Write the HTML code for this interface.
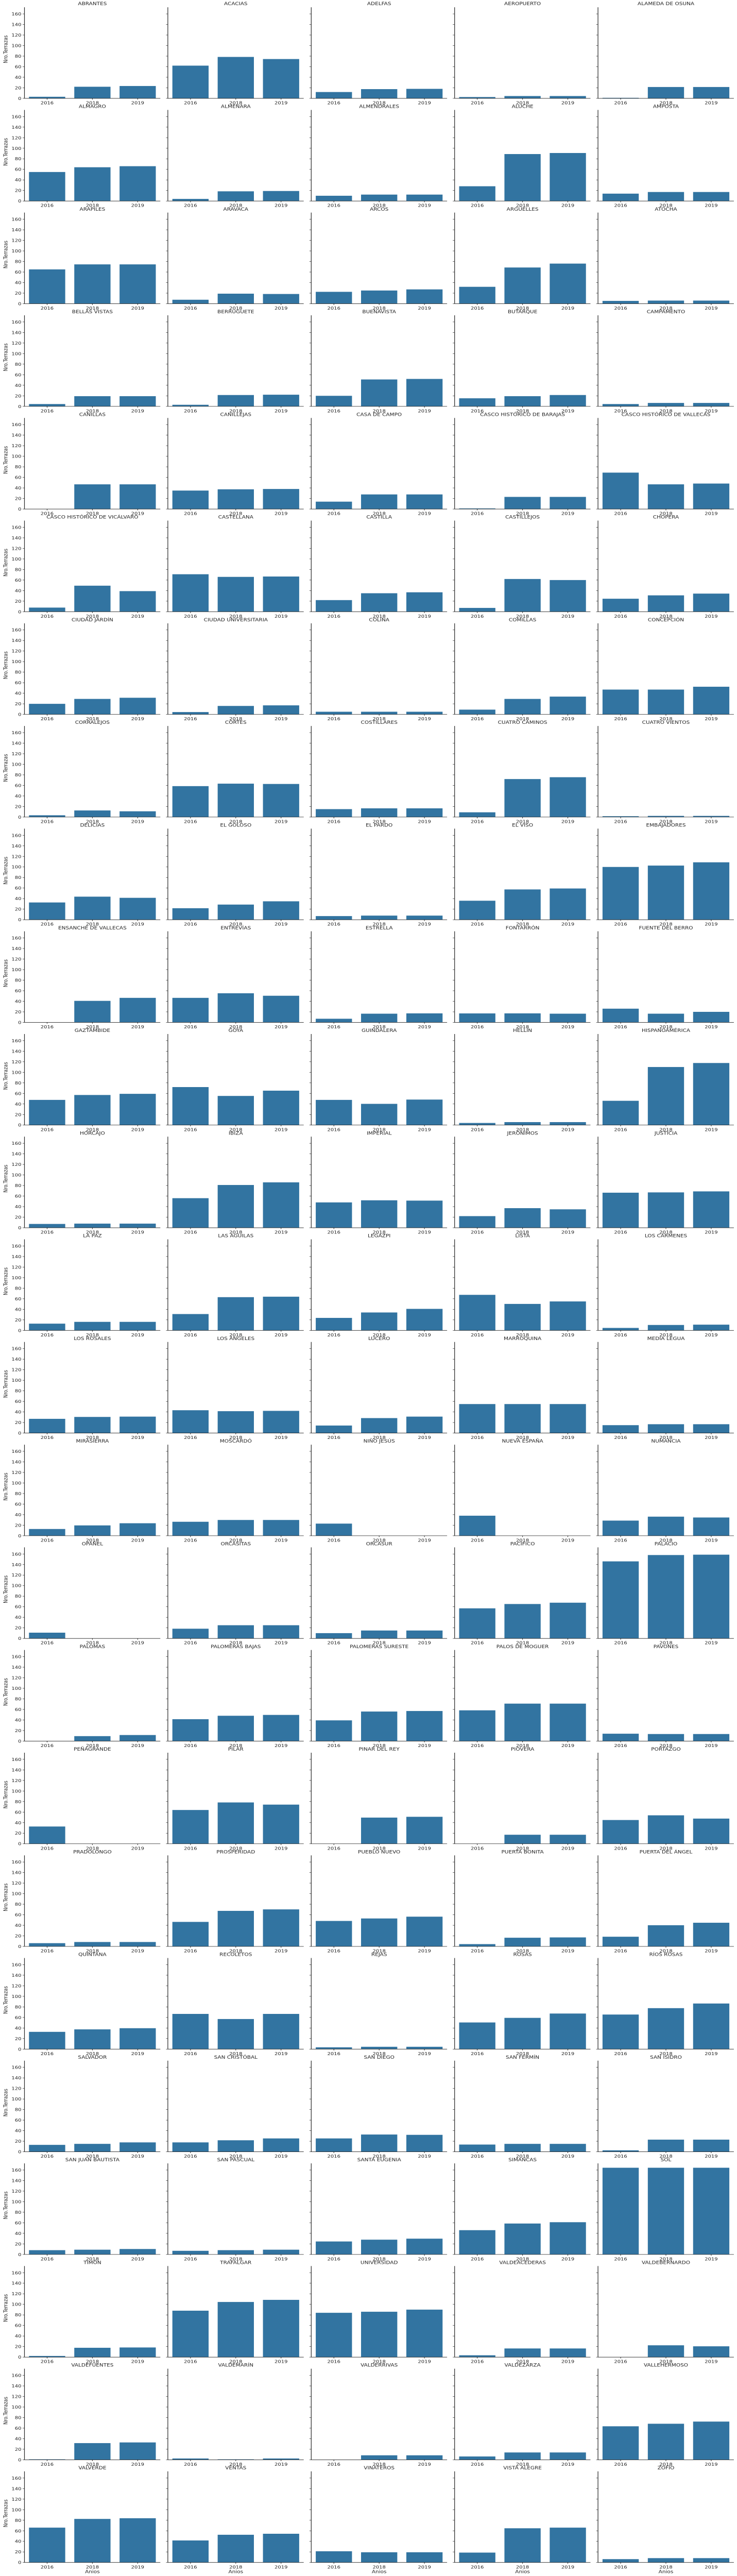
<!DOCTYPE html>
<html><head><meta charset="utf-8">
<style>
html,body{margin:0;padding:0;background:#fff;width:100%;height:100%;overflow:hidden;}
svg{display:block;width:100vw;height:100vh;position:absolute;left:0;top:0;}
text{font-family:"DejaVu Sans","Liberation Sans",sans-serif;fill:#222;}
</style></head>
<body>
<svg id="chart" viewBox="0 0 1431 7192" preserveAspectRatio="none" xmlns="http://www.w3.org/2000/svg"></svg>
<script>
const barrios = ["ABRANTES","ACACIAS","ADELFAS","AEROPUERTO","ALAMEDA DE OSUNA",
"ALMAGRO","ALMENARA","ALMENDRALES","ALUCHE","AMPOSTA",
"ARAPILES","ARAVACA","ARCOS","ARGÜELLES","ATOCHA",
"BELLAS VISTAS","BERRUGUETE","BUENAVISTA","BUTARQUE","CAMPAMENTO",
"CANILLAS","CANILLEJAS","CASA DE CAMPO","CASCO HISTÓRICO DE BARAJAS","CASCO HISTÓRICO DE VALLECAS",
"CASCO HISTÓRICO DE VICÁLVARO","CASTELLANA","CASTILLA","CASTILLEJOS","CHOPERA",
"CIUDAD JARDÍN","CIUDAD UNIVERSITARIA","COLINA","COMILLAS","CONCEPCIÓN",
"CORRALEJOS","CORTES","COSTILLARES","CUATRO CAMINOS","CUATRO VIENTOS",
"DELICIAS","EL GOLOSO","EL PARDO","EL VISO","EMBAJADORES",
"ENSANCHE DE VALLECAS","ENTREVÍAS","ESTRELLA","FONTARRÓN","FUENTE DEL BERRO",
"GAZTAMBIDE","GOYA","GUINDALERA","HELLÍN","HISPANOAMÉRICA",
"HORCAJO","IBIZA","IMPERIAL","JERÓNIMOS","JUSTICIA",
"LA PAZ","LAS ÁGUILAS","LEGAZPI","LISTA","LOS CÁRMENES",
"LOS ROSALES","LOS ÁNGELES","LUCERO","MARROQUINA","MEDIA LEGUA",
"MIRASIERRA","MOSCARDÓ","NIÑO JESÚS","NUEVA ESPAÑA","NUMANCIA",
"OPAÑEL","ORCASITAS","ORCASUR","PACÍFICO","PALACIO",
"PALOMAS","PALOMERAS BAJAS","PALOMERAS SURESTE","PALOS DE MOGUER","PAVONES",
"PEÑAGRANDE","PILAR","PINAR DEL REY","PIOVERA","PORTAZGO",
"PRADOLONGO","PROSPERIDAD","PUEBLO NUEVO","PUERTA BONITA","PUERTA DEL ÁNGEL",
"QUINTANA","RECOLETOS","REJAS","ROSAS","RÍOS ROSAS",
"SALVADOR","SAN CRISTÓBAL","SAN DIEGO","SAN FERMÍN","SAN ISIDRO",
"SAN JUAN BAUTISTA","SAN PASCUAL","SANTA EUGENIA","SIMANCAS","SOL",
"TIMÓN","TRAFALGAR","UNIVERSIDAD","VALDEACEDERAS","VALDEBERNARDO",
"VALDEFUENTES","VALDEMARÍN","VALDERRIVAS","VALDEZARZA","VALLEHERMOSO",
"VALVERDE","VENTAS","VINATEROS","VISTA ALEGRE","ZOFÍO"];
const years = ["2016","2018","2019"];
const v2016 = [3,62,12,2.5,1, 55,4,10,28,14, 65,7.5,22.5,32,5.3, 4.4,3,20,15.3,4.4, 0,35,14,1.2,69,
7.8,71,22,7.2,24.6, 20,4.4,5,9,47, 3.4,58.6,15,9,1.6, 32.7,21.8,6.9,36,100, 0,46.5,6.9,17,26,
47.7,72,47.7,4,46, 7.2,56,48,22,66.4, 12.8,31,23.7,67.4,4.7, 27,43.3,14.3,55,15, 12.8,26.5,23,38,28.7,
10.9,18.4,10,57,146, 0,41.5,39.3,58.3,14, 32.7,64,0,0,45, 6.2,46.5,48.3,4.4,18.4, 32.7,66.7,3.4,50.5,65.5,
13.1,17.8,25.3,13.7,2.8, 8.1,6.9,24.6,46,164.3, 2.2,88,84,3.5,0, 0.9,2.5,0,6.3,63.5, 66,41.7,21.2,18.7,6.3];
const v2018 = [22,78.5,17.5,4.4,21.5, 64,18.4,12.2,89,17.1, 74.5,19,25,68.6,5.9, 19.3,21.5,51,19.3,6.5, 46.8,37.4,27.7,23,46.8,
49.3,66,35,62,31, 29.3,16,5,29.3,47, 12.5,63.3,16.5,72,2.2, 43.7,28.7,7.8,57.4,102.6, 40.8,55.2,16.5,17.1,16.5,
57,55.2,40.2,5.6,110, 7.8,81,52,37.1,67, 16.2,63,34,50.2,10.3, 30.6,41.5,28.4,55,16.8, 19.6,29.9,0,0,36.2,
0,25,15,65.2,158, 9.4,48,56,71,13.4, 0,78.3,49.6,17.1,53.9, 8.4,67.4,53,16.5,40.2, 37.4,57,4.4,59.2,77.6,
15,21.8,32.7,15,23, 9,8.1,28,58.6,164.3, 17.7,104.5,86,16.4,22.4, 31.6,0.9,8.5,13.9,68.3, 82.5,52.5,19.3,64.8,8.2];
const v2019 = [23.4,74.5,18,4.4,21.5, 66,19,12.2,91,17.1, 74.5,18.4,27.1,76,5.9, 19.3,22.1,52,21.5,6.5, 46.8,38,27.7,23,48.3,
39,66.7,36.8,60,34.3, 31.5,17.1,5,33.7,52.4, 10.9,62.7,16.5,75.5,2.2, 41.5,34.9,7.8,59.2,108.8, 46.5,50.5,17.1,16.5,20,
59.2,65.2,48.3,5.6,117.6, 7.8,86,51.4,34.9,68.9, 16.2,63.9,40.8,54.9,10.9, 31.2,42.1,31.2,55,16.8, 23.7,29.9,0,0,34.6,
0,25,15,67.7,158.7, 11.5,49.6,57,71,13.4, 0,74.2,51.1,17.1,47.7, 8.4,70.2,56.4,17.1,44.9, 39.6,66.7,4.4,67.4,86.4,
17.8,25.3,32.1,15,23, 10.3,9,29.9,61.1,164.3, 18.3,108.5,90,16.4,20.5, 32.9,2.5,8.5,13.9,72.4, 83.8,54.4,19.3,66,8.2];
const yTicks = [0,20,40,60,80,100,120,140,160];
const yLabel = "Nro.Terrazas";
const xLabel = "Anios";

const NS = "http://www.w3.org/2000/svg";
const svg = document.getElementById("chart");
const NCOL = 5, YMAX = 172.6;
const ROW0 = 20.3, ROWP = 286.65, AXH = 254.3;
const COL0 = 47.5, COLP = 278.4, AXW = 263.8;
const K = 1.2;
function mk(tag, attrs, parent){const e=document.createElementNS(NS,tag);for(const k in attrs)e.setAttribute(k,attrs[k]);(parent||svg).appendChild(e);return e;}
function fix(x, y){return `translate(${x} ${y}) scale(1 ${K}) translate(${-x} ${-y}) `;}
function yScale(v, top){return top + AXH - v/YMAX*AXH;}
function xCenter(i, left){return left + (i+0.5)*AXW/years.length;}
const nRows = Math.ceil(barrios.length/NCOL);
barrios.forEach((name, idx) => {
  const r = Math.floor(idx/NCOL), c = idx % NCOL;
  const top = ROW0 + r*ROWP, left = COL0 + c*COLP, base = top + AXH;
  const g = mk("g", {});
  
  
  const vals = [v2016[idx], v2018[idx], v2019[idx]];
  const bw = 0.8*AXW/years.length;
  vals.forEach((v, i) => {
    const y = yScale(v, top);
    const b = mk("rect", {x:(xCenter(i,left)-bw/2).toFixed(2), y:y.toFixed(2), width:bw.toFixed(2), height:Math.max(0,base-y).toFixed(2), fill:"#3274a1"}, g);
    
    
  });
  const sp = mk("path", {d:`M${left},${top} V${base} H${left+AXW}`, stroke:"#222", "stroke-width":"1.2", fill:"none"}, g);
  
  
  yTicks.forEach(t => {
    const y = yScale(t, top);
    mk("line", {x1:left-3.5, x2:left, y1:y, y2:y, stroke:"#222", "stroke-width":"1"}, g);
    if (c === 0) {
      const tl = mk("text", {x:left-6, y:y+3.6, "font-size":"10", "text-anchor":"end", transform:fix(left-6,y)}, g);
      tl.textContent = t;
      
      
    }
  });
  years.forEach((yr, i) => {
    const x = xCenter(i, left);
    mk("line", {x1:x, x2:x, y1:base, y2:base+3.5, stroke:"#222", "stroke-width":"1"}, g);
    const xl = mk("text", {x:x, y:base+14.5, "font-size":"10", "text-anchor":"middle", transform:fix(x, base+4)}, g);
    xl.textContent = yr;
    
    
  });
  const tt = mk("text", {x:left+AXW/2, y:top-5, "font-size":"10.5", "text-anchor":"middle", transform:fix(left+AXW/2, top-2)}, g);
  tt.textContent = name;
  
  
  if (c === 0) {
    const cy = top + AXH/2 - 10;
    const yl = mk("text", {x:14.5, y:cy, "font-size":"10.5", "text-anchor":"middle", transform:fix(14.5, cy) + `rotate(-90 14.5 ${cy})`}, g);
    yl.textContent = yLabel;
    
    
  }
  if (r === nRows-1) {
    const xa = mk("text", {x:left+AXW/2, y:base+28, "font-size":"10.5", "text-anchor":"middle", transform:fix(left+AXW/2, base+20)}, g);
    xa.textContent = xLabel;
    
    
  }
});
</script>
</body></html>
